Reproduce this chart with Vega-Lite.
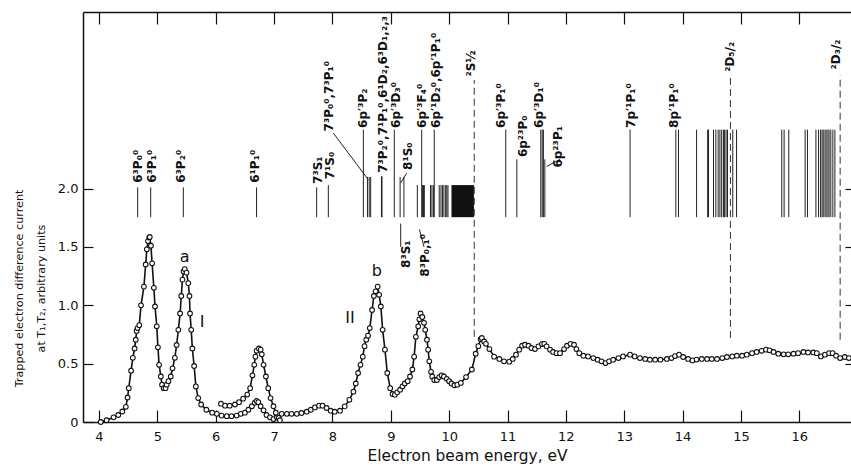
{
  "$schema": "https://vega.github.io/schema/vega-lite/v6.json",
  "autosize": {"type": "none"},
  "padding": {"left": 83, "top": 12, "right": 0, "bottom": 47},
  "width": 768,
  "height": 410,
  "background": "white",
  "config": {
    "view": {"stroke": null},
    "font": "DejaVu Sans",
    "axis": {"grid": false, "domainColor": "#111", "tickColor": "#111", "labelColor": "#111", "titleColor": "#111", "domainWidth": 1.5, "tickWidth": 1.2}
  },
  "datasets": {
    "curve": [
      {"e":4.03,"v":0.0,"s":"main"},{"e":4.13,"v":0.015,"s":"main"},{"e":4.25,"v":0.04,"s":"main"},{"e":4.33,"v":0.06,"s":"main"},{"e":4.40,"v":0.09,"s":"main"},{"e":4.46,"v":0.13,"s":"main"},{"e":4.49,"v":0.21,"s":"main"},{"e":4.51,"v":0.29,"s":"main"},{"e":4.55,"v":0.44,"s":"main"},{"e":4.58,"v":0.55,"s":"main"},{"e":4.61,"v":0.63,"s":"main"},{"e":4.63,"v":0.705,"s":"main"},{"e":4.645,"v":0.78,"s":"main"},{"e":4.66,"v":0.805,"s":"main"},{"e":4.69,"v":0.83,"s":"main"},{"e":4.72,"v":1.0,"s":"main"},{"e":4.77,"v":1.16,"s":"main"},{"e":4.80,"v":1.35,"s":"main"},{"e":4.82,"v":1.48,"s":"main"},{"e":4.84,"v":1.55,"s":"main"},{"e":4.86,"v":1.58,"s":"main"},{"e":4.87,"v":1.585,"s":"main"},{"e":4.89,"v":1.51,"s":"main"},{"e":4.91,"v":1.36,"s":"main"},{"e":4.94,"v":1.15,"s":"main"},{"e":4.96,"v":0.99,"s":"main"},{"e":4.99,"v":0.82,"s":"main"},{"e":5.01,"v":0.64,"s":"main"},{"e":5.03,"v":0.49,"s":"main"},{"e":5.06,"v":0.39,"s":"main"},{"e":5.08,"v":0.32,"s":"main"},{"e":5.11,"v":0.29,"s":"main"},{"e":5.14,"v":0.29,"s":"main"},{"e":5.16,"v":0.32,"s":"main"},{"e":5.19,"v":0.35,"s":"main"},{"e":5.23,"v":0.39,"s":"main"},{"e":5.26,"v":0.46,"s":"main"},{"e":5.30,"v":0.55,"s":"main"},{"e":5.33,"v":0.66,"s":"main"},{"e":5.36,"v":0.79,"s":"main"},{"e":5.39,"v":0.93,"s":"main"},{"e":5.41,"v":1.08,"s":"main"},{"e":5.43,"v":1.22,"s":"main"},{"e":5.45,"v":1.29,"s":"main"},{"e":5.47,"v":1.31,"s":"main"},{"e":5.50,"v":1.28,"s":"main"},{"e":5.53,"v":1.19,"s":"main"},{"e":5.55,"v":1.08,"s":"main"},{"e":5.56,"v":0.93,"s":"main"},{"e":5.58,"v":0.79,"s":"main"},{"e":5.60,"v":0.63,"s":"main"},{"e":5.63,"v":0.48,"s":"main"},{"e":5.66,"v":0.305,"s":"main"},{"e":5.70,"v":0.205,"s":"main"},{"e":5.75,"v":0.15,"s":"main"},{"e":5.84,"v":0.105,"s":"main"},{"e":5.94,"v":0.08,"s":"main"},{"e":6.02,"v":0.07,"s":"main"},{"e":6.10,"v":0.055,"s":"main"},{"e":6.19,"v":0.05,"s":"main"},{"e":6.27,"v":0.05,"s":"main"},{"e":6.36,"v":0.055,"s":"main"},{"e":6.43,"v":0.07,"s":"main"},{"e":6.50,"v":0.08,"s":"main"},{"e":6.56,"v":0.105,"s":"main"},{"e":6.62,"v":0.135,"s":"main"},{"e":6.67,"v":0.165,"s":"main"},{"e":6.70,"v":0.18,"s":"main"},{"e":6.73,"v":0.17,"s":"main"},{"e":6.77,"v":0.135,"s":"main"},{"e":6.82,"v":0.10,"s":"main"},{"e":6.87,"v":0.06,"s":"main"},{"e":6.93,"v":0.04,"s":"main"},{"e":6.99,"v":0.025,"s":"main"},{"e":7.05,"v":0.04,"s":"main"},{"e":7.13,"v":0.07,"s":"main"},{"e":7.22,"v":0.07,"s":"main"},{"e":7.30,"v":0.07,"s":"main"},{"e":7.39,"v":0.07,"s":"main"},{"e":7.47,"v":0.077,"s":"main"},{"e":7.56,"v":0.088,"s":"main"},{"e":7.63,"v":0.105,"s":"main"},{"e":7.70,"v":0.125,"s":"main"},{"e":7.77,"v":0.14,"s":"main"},{"e":7.83,"v":0.14,"s":"main"},{"e":7.90,"v":0.12,"s":"main"},{"e":7.97,"v":0.097,"s":"main"},{"e":8.04,"v":0.088,"s":"main"},{"e":8.13,"v":0.097,"s":"main"},{"e":8.21,"v":0.134,"s":"main"},{"e":8.29,"v":0.19,"s":"main"},{"e":8.36,"v":0.26,"s":"main"},{"e":8.40,"v":0.33,"s":"main"},{"e":8.44,"v":0.42,"s":"main"},{"e":8.48,"v":0.49,"s":"main"},{"e":8.52,"v":0.56,"s":"main"},{"e":8.55,"v":0.65,"s":"main"},{"e":8.58,"v":0.705,"s":"main"},{"e":8.61,"v":0.74,"s":"main"},{"e":8.64,"v":0.805,"s":"main"},{"e":8.68,"v":0.96,"s":"main"},{"e":8.71,"v":1.08,"s":"main"},{"e":8.74,"v":1.12,"s":"main"},{"e":8.775,"v":1.16,"s":"main"},{"e":8.80,"v":1.09,"s":"main"},{"e":8.83,"v":0.99,"s":"main"},{"e":8.86,"v":0.79,"s":"main"},{"e":8.90,"v":0.62,"s":"main"},{"e":8.94,"v":0.42,"s":"main"},{"e":8.99,"v":0.29,"s":"main"},{"e":9.03,"v":0.24,"s":"main"},{"e":9.07,"v":0.234,"s":"main"},{"e":9.11,"v":0.254,"s":"main"},{"e":9.16,"v":0.277,"s":"main"},{"e":9.20,"v":0.305,"s":"main"},{"e":9.24,"v":0.33,"s":"main"},{"e":9.29,"v":0.35,"s":"main"},{"e":9.33,"v":0.39,"s":"main"},{"e":9.37,"v":0.45,"s":"main"},{"e":9.40,"v":0.56,"s":"main"},{"e":9.43,"v":0.73,"s":"main"},{"e":9.47,"v":0.82,"s":"main"},{"e":9.49,"v":0.88,"s":"main"},{"e":9.51,"v":0.93,"s":"main"},{"e":9.54,"v":0.90,"s":"main"},{"e":9.57,"v":0.85,"s":"main"},{"e":9.59,"v":0.79,"s":"main"},{"e":9.62,"v":0.705,"s":"main"},{"e":9.64,"v":0.62,"s":"main"},{"e":9.66,"v":0.52,"s":"main"},{"e":9.69,"v":0.43,"s":"main"},{"e":9.71,"v":0.39,"s":"main"},{"e":9.745,"v":0.36,"s":"main"},{"e":9.79,"v":0.36,"s":"main"},{"e":9.83,"v":0.385,"s":"main"},{"e":9.87,"v":0.40,"s":"main"},{"e":9.91,"v":0.39,"s":"main"},{"e":9.96,"v":0.37,"s":"main"},{"e":10.00,"v":0.35,"s":"main"},{"e":10.04,"v":0.33,"s":"main"},{"e":10.09,"v":0.315,"s":"main"},{"e":10.14,"v":0.32,"s":"main"},{"e":10.20,"v":0.335,"s":"main"},{"e":10.29,"v":0.385,"s":"main"},{"e":10.39,"v":0.45,"s":"main"},{"e":10.455,"v":0.585,"s":"main"},{"e":10.50,"v":0.65,"s":"main"},{"e":10.54,"v":0.71,"s":"main"},{"e":10.56,"v":0.72,"s":"main"},{"e":10.60,"v":0.69,"s":"main"},{"e":10.63,"v":0.67,"s":"main"},{"e":10.69,"v":0.625,"s":"main"},{"e":10.77,"v":0.56,"s":"main"},{"e":10.86,"v":0.54,"s":"main"},{"e":10.94,"v":0.52,"s":"main"},{"e":11.03,"v":0.517,"s":"main"},{"e":11.09,"v":0.54,"s":"main"},{"e":11.145,"v":0.577,"s":"main"},{"e":11.20,"v":0.62,"s":"main"},{"e":11.25,"v":0.654,"s":"main"},{"e":11.30,"v":0.662,"s":"main"},{"e":11.36,"v":0.654,"s":"main"},{"e":11.41,"v":0.634,"s":"main"},{"e":11.47,"v":0.625,"s":"main"},{"e":11.53,"v":0.648,"s":"main"},{"e":11.59,"v":0.668,"s":"main"},{"e":11.63,"v":0.67,"s":"main"},{"e":11.67,"v":0.648,"s":"main"},{"e":11.73,"v":0.62,"s":"main"},{"e":11.78,"v":0.60,"s":"main"},{"e":11.84,"v":0.59,"s":"main"},{"e":11.90,"v":0.59,"s":"main"},{"e":11.97,"v":0.625,"s":"main"},{"e":12.02,"v":0.654,"s":"main"},{"e":12.08,"v":0.67,"s":"main"},{"e":12.14,"v":0.662,"s":"main"},{"e":12.18,"v":0.625,"s":"main"},{"e":12.23,"v":0.59,"s":"main"},{"e":12.30,"v":0.568,"s":"main"},{"e":12.38,"v":0.562,"s":"main"},{"e":12.47,"v":0.548,"s":"main"},{"e":12.545,"v":0.534,"s":"main"},{"e":12.61,"v":0.52,"s":"main"},{"e":12.68,"v":0.505,"s":"main"},{"e":12.74,"v":0.52,"s":"main"},{"e":12.81,"v":0.534,"s":"main"},{"e":12.90,"v":0.548,"s":"main"},{"e":12.98,"v":0.562,"s":"main"},{"e":13.10,"v":0.577,"s":"main"},{"e":13.18,"v":0.562,"s":"main"},{"e":13.27,"v":0.548,"s":"main"},{"e":13.36,"v":0.54,"s":"main"},{"e":13.44,"v":0.534,"s":"main"},{"e":13.53,"v":0.534,"s":"main"},{"e":13.62,"v":0.534,"s":"main"},{"e":13.73,"v":0.54,"s":"main"},{"e":13.81,"v":0.548,"s":"main"},{"e":13.87,"v":0.565,"s":"main"},{"e":13.94,"v":0.577,"s":"main"},{"e":14.01,"v":0.557,"s":"main"},{"e":14.095,"v":0.54,"s":"main"},{"e":14.17,"v":0.528,"s":"main"},{"e":14.24,"v":0.535,"s":"main"},{"e":14.33,"v":0.54,"s":"main"},{"e":14.42,"v":0.54,"s":"main"},{"e":14.50,"v":0.54,"s":"main"},{"e":14.59,"v":0.54,"s":"main"},{"e":14.68,"v":0.548,"s":"main"},{"e":14.76,"v":0.557,"s":"main"},{"e":14.85,"v":0.562,"s":"main"},{"e":14.93,"v":0.568,"s":"main"},{"e":15.02,"v":0.568,"s":"main"},{"e":15.10,"v":0.577,"s":"main"},{"e":15.19,"v":0.59,"s":"main"},{"e":15.27,"v":0.60,"s":"main"},{"e":15.355,"v":0.61,"s":"main"},{"e":15.43,"v":0.62,"s":"main"},{"e":15.49,"v":0.614,"s":"main"},{"e":15.56,"v":0.60,"s":"main"},{"e":15.64,"v":0.585,"s":"main"},{"e":15.73,"v":0.58,"s":"main"},{"e":15.81,"v":0.58,"s":"main"},{"e":15.90,"v":0.585,"s":"main"},{"e":15.98,"v":0.59,"s":"main"},{"e":16.07,"v":0.60,"s":"main"},{"e":16.15,"v":0.596,"s":"main"},{"e":16.24,"v":0.596,"s":"main"},{"e":16.30,"v":0.59,"s":"main"},{"e":16.37,"v":0.562,"s":"main"},{"e":16.44,"v":0.577,"s":"main"},{"e":16.51,"v":0.59,"s":"main"},{"e":16.57,"v":0.59,"s":"main"},{"e":16.63,"v":0.568,"s":"main"},{"e":16.70,"v":0.548,"s":"main"},{"e":16.78,"v":0.557,"s":"main"},{"e":16.85,"v":0.548,"s":"main"},
      {"e":6.09,"v":0.157,"s":"upper"},{"e":6.16,"v":0.14,"s":"upper"},{"e":6.24,"v":0.14,"s":"upper"},{"e":6.33,"v":0.15,"s":"upper"},{"e":6.40,"v":0.17,"s":"upper"},{"e":6.47,"v":0.20,"s":"upper"},{"e":6.54,"v":0.235,"s":"upper"},{"e":6.59,"v":0.29,"s":"upper"},{"e":6.63,"v":0.40,"s":"upper"},{"e":6.66,"v":0.49,"s":"upper"},{"e":6.68,"v":0.56,"s":"upper"},{"e":6.70,"v":0.61,"s":"upper"},{"e":6.74,"v":0.63,"s":"upper"},{"e":6.77,"v":0.62,"s":"upper"},{"e":6.79,"v":0.58,"s":"upper"},{"e":6.82,"v":0.49,"s":"upper"},{"e":6.86,"v":0.39,"s":"upper"},{"e":6.90,"v":0.29,"s":"upper"},{"e":6.94,"v":0.205,"s":"upper"},{"e":6.99,"v":0.135,"s":"upper"},{"e":7.03,"v":0.08,"s":"upper"},{"e":7.08,"v":0.035,"s":"upper"},{"e":7.10,"v":0.015,"s":"upper"}
    ],
    "lines": [
      {"e":4.663,"lo":1.755,"hi":2.01},{"e":4.886,"lo":1.755,"hi":2.01},{"e":5.445,"lo":1.755,"hi":2.01},{"e":6.70,"lo":1.755,"hi":2.01},
      {"e":7.73,"lo":1.755,"hi":2.01},{"e":7.93,"lo":1.755,"hi":2.03},
      {"e":8.53,"lo":1.755,"hi":2.505},{"e":8.60,"lo":1.755,"hi":2.1},{"e":8.63,"lo":1.755,"hi":2.1},{"e":8.655,"lo":1.755,"hi":2.1},
      {"e":8.84,"lo":1.755,"hi":2.105},{"e":8.85,"lo":1.755,"hi":2.105},
      {"e":9.06,"lo":1.755,"hi":2.505},{"e":9.16,"lo":1.755,"hi":2.1},{"e":9.225,"lo":1.755,"hi":2.1},
      {"e":9.455,"lo":1.755,"hi":2.03},{"e":9.53,"lo":1.755,"hi":2.505},{"e":9.545,"lo":1.755,"hi":2.03},{"e":9.56,"lo":1.755,"hi":2.03},{"e":9.575,"lo":1.755,"hi":2.03},
      {"e":9.68,"lo":1.755,"hi":2.03},{"e":9.705,"lo":1.755,"hi":2.03},{"e":9.73,"lo":1.755,"hi":2.03},{"e":9.745,"lo":1.755,"hi":2.505},
      {"e":9.83,"lo":1.755,"hi":2.03},{"e":9.86,"lo":1.755,"hi":2.03},{"e":9.885,"lo":1.755,"hi":2.03},{"e":9.91,"lo":1.755,"hi":2.03},{"e":9.94,"lo":1.755,"hi":2.03},{"e":9.96,"lo":1.755,"hi":2.03},{"e":9.98,"lo":1.755,"hi":2.03},
      {"e":10.97,"lo":1.755,"hi":2.505},{"e":11.16,"lo":1.755,"hi":2.25},
      {"e":11.57,"lo":1.755,"hi":2.505},{"e":11.595,"lo":1.755,"hi":2.505},{"e":11.615,"lo":1.755,"hi":2.505},{"e":11.64,"lo":1.755,"hi":2.25},
      {"e":13.10,"lo":1.755,"hi":2.505},{"e":13.885,"lo":1.755,"hi":2.505},{"e":13.93,"lo":1.755,"hi":2.505},
      {"e":14.24,"lo":1.755,"hi":2.505},{"e":14.43,"lo":1.755,"hi":2.505},{"e":14.445,"lo":1.755,"hi":2.505},{"e":14.53,"lo":1.755,"hi":2.505},{"e":14.57,"lo":1.755,"hi":2.505},{"e":14.61,"lo":1.755,"hi":2.505},{"e":14.64,"lo":1.755,"hi":2.505},{"e":14.67,"lo":1.755,"hi":2.505},{"e":14.70,"lo":1.755,"hi":2.505},{"e":14.72,"lo":1.755,"hi":2.505},{"e":14.745,"lo":1.755,"hi":2.505},{"e":14.77,"lo":1.755,"hi":2.505},{"e":14.86,"lo":1.755,"hi":2.505},{"e":14.925,"lo":1.755,"hi":2.505},
      {"e":15.70,"lo":1.755,"hi":2.505},{"e":15.74,"lo":1.755,"hi":2.505},{"e":15.82,"lo":1.755,"hi":2.505},{"e":16.10,"lo":1.755,"hi":2.505},{"e":16.14,"lo":1.755,"hi":2.505},
      {"e":16.285,"lo":1.755,"hi":2.505},{"e":16.33,"lo":1.755,"hi":2.505},{"e":16.365,"lo":1.755,"hi":2.505},{"e":16.39,"lo":1.755,"hi":2.505},{"e":16.41,"lo":1.755,"hi":2.505},{"e":16.44,"lo":1.755,"hi":2.505},{"e":16.46,"lo":1.755,"hi":2.505},{"e":16.49,"lo":1.755,"hi":2.505},{"e":16.51,"lo":1.755,"hi":2.505},{"e":16.54,"lo":1.755,"hi":2.505},{"e":16.575,"lo":1.755,"hi":2.505},{"e":16.61,"lo":1.755,"hi":2.505}
    ],
    "block": [{"e":10.04,"e2":10.425,"lo":1.755,"hi":2.03}],
    "dashed": [
      {"e":10.43,"lo":0.73,"hi":2.93},{"e":14.82,"lo":0.72,"hi":2.97},{"e":16.70,"lo":0.705,"hi":2.97}
    ],
    "leaders": [
      {"e":8.015,"v":2.476,"e2":8.615,"v2":2.076},
      {"e":9.27,"v":2.13,"e2":9.17,"v2":2.05},
      {"e":11.90,"v":2.25,"e2":11.67,"v2":2.19},
      {"e":9.17,"v":1.5,"e2":9.17,"v2":1.70},
      {"e":9.57,"v":1.5,"e2":9.49,"v2":1.65}
    ],
    "labels": [
      {"e":4.66,"v":2.05,"t":"6³P₀⁰"},
      {"e":4.91,"v":2.05,"t":"6³P₁⁰"},
      {"e":5.41,"v":2.05,"t":"6³P₂⁰"},
      {"e":6.68,"v":2.05,"t":"6¹P₁⁰"},
      {"e":7.745,"v":2.04,"t":"7³S₁"},
      {"e":7.96,"v":2.08,"t":"7¹S₀"},
      {"e":7.94,"v":2.49,"t":"7³P₀⁰,7³P₁⁰"},
      {"e":8.52,"v":2.52,"t":"6p′³P₂"},
      {"e":8.875,"v":2.135,"t":"7³P₂⁰,7¹P₁⁰,6¹D₂,6³D₁,₂,₃"},
      {"e":9.09,"v":2.52,"t":"6p′³D₃⁰"},
      {"e":9.295,"v":2.16,"t":"8¹S₀"},
      {"e":9.54,"v":2.52,"t":"6p′³F₄⁰"},
      {"e":9.775,"v":2.52,"t":"6p′¹D₂⁰,6p′¹P₁⁰"},
      {"e":10.37,"v":2.96,"t":"²S½"},
      {"e":10.89,"v":2.52,"t":"6p′³P₁⁰"},
      {"e":11.26,"v":2.27,"t":"6p²³P₀"},
      {"e":11.54,"v":2.52,"t":"6p′³D₁⁰"},
      {"e":11.87,"v":2.18,"t":"6p²³P₁"},
      {"e":13.115,"v":2.52,"t":"7p′¹P₁⁰"},
      {"e":13.845,"v":2.52,"t":"8p′¹P₁⁰"},
      {"e":14.81,"v":3.0,"t":"²D₅/₂"},
      {"e":16.63,"v":3.02,"t":"²D₃/₂"},
      {"e":9.26,"v":1.32,"t":"8³S₁"},
      {"e":9.585,"v":1.245,"t":"8³P₀,₁⁰"}
    ],
    "marks": [
      {"e":5.47,"v":1.41,"t":"a"},
      {"e":8.76,"v":1.29,"t":"b"},
      {"e":5.765,"v":0.86,"t":"I"},
      {"e":8.30,"v":0.895,"t":"II"}
    ]
  },
  "resolve": {"axis": {"x": "independent", "y": "independent"}},
  "layer": [
    {
      "data": {"name": "curve"},
      "mark": {"type": "line", "color": "#111", "strokeWidth": 1.6},
      "encoding": {
        "x": {"field": "e", "type": "quantitative", "scale": {"domain": [3.726, 16.886], "nice": false, "zero": false},
          "axis": {"orient": "bottom", "values": [4,5,6,7,8,9,10,11,12,13,14,15,16,17], "tickSize": -12, "labelPadding": 20, "labelFontSize": 13, "title": "Electron beam energy, eV", "titleFontSize": 15.4, "titlePadding": 5, "titleFontWeight": "normal", "labelFlush": false}},
        "y": {"field": "v", "type": "quantitative", "scale": {"domain": [0, 3.513], "nice": false},
          "axis": {"orient": "left", "values": [0, 0.5, 1, 1.5, 2], "tickSize": -10, "labelPadding": 15, "labelFontSize": 13, "labelExpr": "datum.value == 0 ? '0' : format(datum.value, '.1f')",
            "title": ["Trapped electron difference current", "at T₁,T₂, arbitrary units"], "titleFontSize": 11.2, "titleFontWeight": "normal", "titleAngle": 270, "titleAlign": "center", "titleBaseline": "alphabetic", "titleX": -61, "titleY": 276, "titleLineHeight": 22}},
        "detail": {"field": "s"}
      }
    },
    {
      "data": {"name": "curve"},
      "mark": {"type": "point", "shape": "circle", "filled": true, "fill": "white", "stroke": "#111", "strokeWidth": 1.1, "size": 22, "opacity": 1},
      "encoding": {
        "x": {"field": "e", "type": "quantitative", "axis": {"orient": "top", "values": [4,5,6,7,8,9,10,11,12,13,14,15,16], "tickSize": -12, "labels": false, "title": null}},
        "y": {"field": "v", "type": "quantitative", "axis": {"orient": "right", "values": [0.5, 1, 1.5, 2], "tickSize": -6, "labels": false, "domain": false, "title": null}}
      }
    },
    {
      "data": {"name": "lines"},
      "mark": {"type": "rule", "color": "#222", "strokeWidth": 1},
      "encoding": {
        "x": {"field": "e", "type": "quantitative", "axis": null},
        "y": {"field": "lo", "type": "quantitative", "axis": null},
        "y2": {"field": "hi"}
      }
    },
    {
      "data": {"name": "block"},
      "mark": {"type": "rect", "color": "#111"},
      "encoding": {
        "x": {"field": "e", "type": "quantitative", "axis": null},
        "x2": {"field": "e2"},
        "y": {"field": "lo", "type": "quantitative", "axis": null},
        "y2": {"field": "hi"}
      }
    },
    {
      "data": {"name": "dashed"},
      "mark": {"type": "rule", "color": "#333", "strokeWidth": 1, "strokeDash": [7, 4]},
      "encoding": {
        "x": {"field": "e", "type": "quantitative", "axis": null},
        "y": {"field": "lo", "type": "quantitative", "axis": null},
        "y2": {"field": "hi"}
      }
    },
    {
      "data": {"name": "leaders"},
      "mark": {"type": "rule", "color": "#222", "strokeWidth": 1},
      "encoding": {
        "x": {"field": "e", "type": "quantitative", "axis": null},
        "y": {"field": "v", "type": "quantitative", "axis": null},
        "x2": {"field": "e2"},
        "y2": {"field": "v2"}
      }
    },
    {
      "data": {"name": "labels"},
      "mark": {"type": "text", "angle": 270, "align": "left", "baseline": "middle", "fontSize": 12, "fontWeight": "bold", "color": "#111"},
      "encoding": {
        "x": {"field": "e", "type": "quantitative", "axis": null},
        "y": {"field": "v", "type": "quantitative", "axis": null},
        "text": {"field": "t"}
      }
    },
    {
      "data": {"name": "marks"},
      "mark": {"type": "text", "align": "center", "baseline": "middle", "fontSize": 16, "color": "#111"},
      "encoding": {
        "x": {"field": "e", "type": "quantitative", "axis": null},
        "y": {"field": "v", "type": "quantitative", "axis": null},
        "text": {"field": "t"}
      }
    }
  ]
}
